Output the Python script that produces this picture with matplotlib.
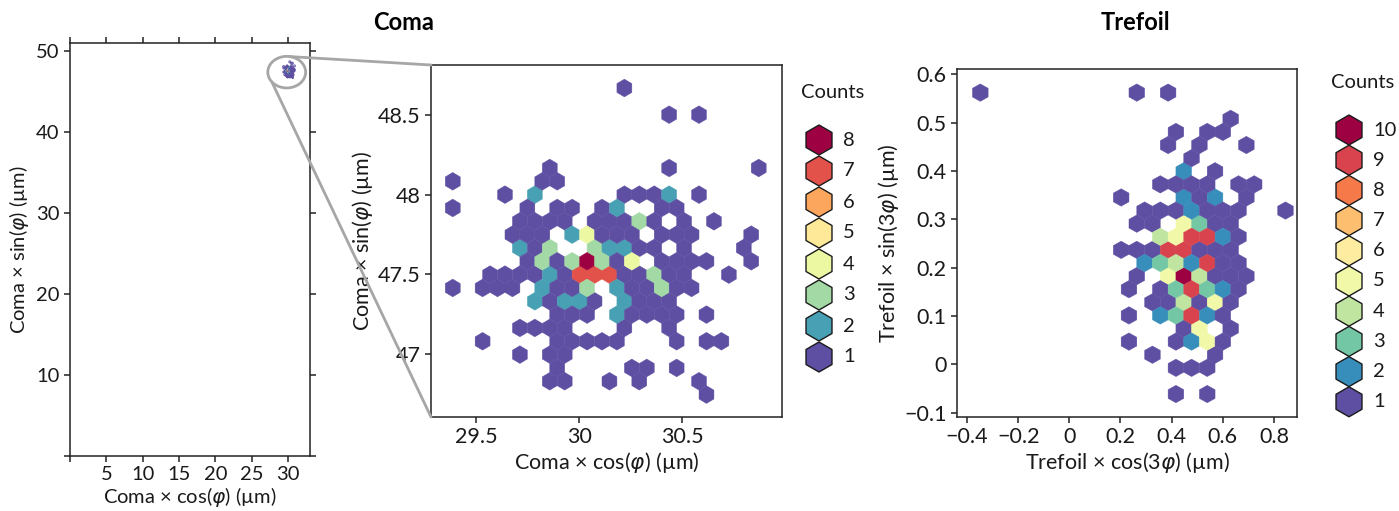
import numpy as np
import matplotlib
matplotlib.use("Agg")
import matplotlib.pyplot as plt
from matplotlib.colors import Normalize
from matplotlib.patches import Ellipse, ConnectionPatch
from matplotlib.ticker import FuncFormatter

plt.rcParams['font.family'] = ['Lato', 'DejaVu Sans']
plt.rcParams['mathtext.fontset'] = 'dejavusans'
plt.rcParams['axes.unicode_minus'] = True

# ---------------- Coma: hexbin cell centres (µm) and counts ----------------
coma_x = [30.22,
          30.44, 30.58,
          29.86, 30.44, 30.87,
          29.39, 29.82, 29.89,
          29.64, 29.78, 30.22, 30.29, 30.36, 30.44, 30.58,
          29.39, 29.75, 29.89, 29.97, 30.11, 30.18, 30.40, 30.47,
          29.71, 29.78, 29.86, 29.93, 30.07, 30.15, 30.22, 30.29, 30.36, 30.51, 30.65,
          29.68, 29.75, 29.82, 29.97, 30.04, 30.11, 30.18, 30.25, 30.40, 30.47, 30.54, 30.83,
          29.71, 29.78, 29.86, 30.07, 30.15, 30.22, 30.29, 30.36, 30.51, 30.80,
          29.75, 29.82, 29.89, 29.97, 30.04, 30.11, 30.18, 30.25, 30.40, 30.47, 30.54, 30.62, 30.83,
          29.57, 29.64, 29.71, 29.78, 29.86, 29.93, 30.00, 30.07, 30.15, 30.22, 30.29, 30.36, 30.44, 30.51, 30.73,
          29.39, 29.53, 29.60, 29.68, 29.82, 29.89, 29.97, 30.04, 30.18, 30.25, 30.33, 30.40, 30.47, 30.54,
          29.78, 29.86, 29.93, 30.00, 30.07, 30.22, 30.29, 30.36, 30.44,
          29.89, 29.97, 30.04, 30.18, 30.25, 30.33, 30.40, 30.47, 30.62,
          29.71, 29.78, 29.86, 29.93, 30.22, 30.44,
          29.53, 29.89, 29.97, 30.04, 30.11, 30.18, 30.47, 30.62, 30.69,
          29.71, 29.86, 29.93,
          29.89, 30.25, 30.33, 30.47,
          29.86, 29.93, 30.15, 30.29, 30.58,
          30.62]
coma_y = ([48.67] + [48.50] * 2 + [48.17] * 3 + [48.08] * 3 + [48.00] * 7
          + [47.92] * 8 + [47.83] * 11 + [47.75] * 12 + [47.67] * 10
          + [47.58] * 13 + [47.50] * 15 + [47.41] * 14 + [47.33] * 9
          + [47.25] * 9 + [47.16] * 6 + [47.08] * 9 + [47.00] * 3
          + [46.91] * 4 + [46.83] * 5 + [46.74])
coma_n = [1,
          1, 1,
          1, 1, 1,
          1, 1, 1,
          1, 2, 1, 1, 1, 2, 1,
          1, 1, 1, 1, 1, 2, 1, 1,
          1, 1, 1, 1, 1, 1, 1, 3, 1, 1, 1,
          1, 1, 1, 2, 4, 1, 1, 1, 1, 1, 1, 1,
          2, 1, 3, 3, 2, 2, 1, 1, 1, 1,
          1, 3, 1, 3, 8, 3, 1, 4, 1, 1, 1, 1, 1,
          1, 1, 1, 1, 2, 1, 7, 7, 7, 1, 1, 3, 1, 1, 1,
          1, 1, 1, 1, 2, 1, 1, 3, 2, 1, 1, 3, 1, 1,
          2, 1, 2, 2, 1, 2, 1, 1, 1,
          1, 1, 1, 2, 1, 1, 1, 1, 1,
          1, 1, 1, 1, 1, 1,
          1, 1, 1, 1, 1, 1, 1, 1, 1,
          1, 1, 1,
          1, 1, 1, 1,
          1, 1, 1, 1, 1,
          1]
coma_levels = [8, 7, 6, 5, 4, 3, 2, 1]

# ---------------- Trefoil: hexbin cell centres (µm) and counts ----------------
tref_x = [-0.35, 0.26, 0.39,
          0.63,
          0.42, 0.54, 0.60,
          0.39, 0.51, 0.69,
          0.48,
          0.45, 0.57,
          0.36, 0.42, 0.48, 0.54, 0.66, 0.72,
          0.20, 0.45, 0.51, 0.57, 0.69,
          0.29, 0.36, 0.42, 0.48, 0.54, 0.60, 0.66, 0.84,
          0.26, 0.32, 0.45, 0.51, 0.57, 0.63,
          0.36, 0.42, 0.48, 0.54, 0.60, 0.66,
          0.20, 0.26, 0.32, 0.39, 0.45, 0.51, 0.57, 0.63,
          0.29, 0.36, 0.42, 0.48, 0.54, 0.60, 0.66,
          0.26, 0.39, 0.45, 0.51, 0.57, 0.63, 0.69,
          0.23, 0.36, 0.42, 0.48, 0.54, 0.60, 0.66,
          0.32, 0.39, 0.45, 0.51, 0.57, 0.63,
          0.23, 0.36, 0.42, 0.48, 0.54, 0.60,
          0.45, 0.51, 0.63,
          0.23, 0.42, 0.48, 0.54, 0.60,
          0.32, 0.57,
          0.42, 0.48, 0.54,
          0.42, 0.54]
tref_y = ([0.56] * 3 + [0.51] + [0.48] * 3 + [0.45] * 3 + [0.43] + [0.40] * 2
          + [0.37] * 6 + [0.35] * 5 + [0.32] * 8 + [0.29] * 6 + [0.26] * 6
          + [0.24] * 8 + [0.21] * 7 + [0.18] * 7 + [0.16] * 7 + [0.13] * 6
          + [0.10] * 6 + [0.07] * 3 + [0.05] * 5 + [0.02] * 2 + [-0.01] * 3
          + [-0.06] * 2)
tref_n = [1, 1, 1,
          1,
          1, 1, 1,
          1, 1, 1,
          1,
          2, 1,
          1, 1, 1, 1, 1, 1,
          1, 2, 1, 2, 1,
          1, 1, 1, 2, 1, 1, 1, 1,
          1, 1, 5, 3, 1, 1,
          4, 5, 9, 9, 2, 1,
          1, 1, 1, 9, 9, 1, 1, 1,
          2, 3, 4, 2, 9, 1, 1,
          1, 5, 10, 4, 1, 1, 1,
          1, 1, 3, 9, 3, 2, 1,
          1, 1, 4, 1, 5, 1,
          1, 2, 3, 9, 2, 1,
          1, 5, 1,
          1, 1, 2, 5, 1,
          1, 1,
          1, 1, 1,
          1, 1]
tref_levels = [10, 9, 8, 7, 6, 5, 4, 3, 2, 1]

# ---------------- figure layout ----------------
W, H = 1399, 511
fig = plt.figure(figsize=(W / 100, H / 100), dpi=100)
TXT = '#1a1a1a'
FS_TICK = 15.5
FS_LAB = 15.5


def rect(l, t, r, b):
    return [l / W, 1 - b / H, (r - l) / W, (b - t) / H]


def fmt(v, p):
    return ('%g' % v).replace('-', '\u2212')


def style(ax, fs=FS_TICK):
    for s in ax.spines.values():
        s.set_linewidth(1.1)
        s.set_color('#222222')
    ax.tick_params(direction='out', length=4.5, width=1.1, colors='#222222',
                   labelsize=fs, labelcolor=TXT, pad=3)


cmap = plt.get_cmap('Spectral_r')
coma_norm = Normalize(1, 8)
tref_norm = Normalize(1, 10)

# hex grid geometry (cell width, row pitch)
coma_sx, coma_sy = 0.072374, 0.167364
coma_x0, coma_y0, coma_nx, coma_ny = 29.2055, 46.4937, 25, 15
coma_ext = (coma_x0, coma_x0 + coma_nx * coma_sx, coma_y0, coma_y0 + coma_ny * coma_sy)

tref_sx, tref_sy = 0.061174, 0.054232
tref_x0, tref_y0, tref_nx, tref_ny = -0.47029, -0.14287, 24, 14
tref_ext = (tref_x0, tref_x0 + tref_nx * tref_sx, tref_y0, tref_y0 + tref_ny * tref_sy)

# ---- overview panel ----
ax0 = fig.add_axes(rect(70, 43, 310, 456))
ax0.hexbin(coma_x, coma_y, C=coma_n, reduce_C_function=np.sum,
           gridsize=(coma_nx, coma_ny), extent=coma_ext, cmap=cmap, norm=coma_norm,
           linewidths=1.6, edgecolors='face')
ax0.set_xlim(0, 33)
ax0.set_ylim(0, 51)
ax0.set_xticks([0, 5, 10, 15, 20, 25, 30])
ax0.set_xticklabels(['', '5', '10', '15', '20', '25', '30'])
ax0.set_yticks([0, 10, 20, 30, 40, 50])
ax0.set_yticklabels(['', '10', '20', '30', '40', '50'])
style(ax0, fs=14.5)
ax0.tick_params(top=True, right=True)
ax0.set_xlabel(r'Coma × cos($\varphi$) (µm)', fontsize=14.5, color=TXT, labelpad=1)
ax0.set_ylabel(r'Coma × sin($\varphi$) (µm)', fontsize=14.5, color=TXT, labelpad=4)

cx, cy, a, b = 29.8, 47.4, 2.6, 1.95
circ = Ellipse((cx, cy), width=2 * a, height=2 * b, fill=False,
               edgecolor='#a6a6a6', lw=2.0, clip_on=False, zorder=5)
ax0.add_patch(circ)

# ---- zoomed coma panel ----
ax1 = fig.add_axes(rect(431, 65, 782, 417))
ax1.hexbin(coma_x, coma_y, C=coma_n, reduce_C_function=np.sum,
           gridsize=(coma_nx, coma_ny), extent=coma_ext, cmap=cmap, norm=coma_norm,
           linewidths=0.3, edgecolors='face')
ax1.set_xlim(29.281, 30.983)
ax1.set_ylim(46.604, 48.814)
ax1.set_xticks([29.5, 30, 30.5])
ax1.set_yticks([47, 47.5, 48, 48.5])
ax1.xaxis.set_major_formatter(FuncFormatter(fmt))
ax1.yaxis.set_major_formatter(FuncFormatter(fmt))
style(ax1)
ax1.set_xlabel(r'Coma × cos($\varphi$) (µm)', fontsize=FS_LAB, color=TXT, labelpad=2)
ax1.set_ylabel(r'Coma × sin($\varphi$) (µm)', fontsize=FS_LAB, color=TXT, labelpad=2)

# connector lines from the circle to the zoomed panel
for ang, corner in ((80, (0, 1)), (218, (0, 0))):
    pA = (cx + a * np.cos(np.radians(ang)), cy + b * np.sin(np.radians(ang)))
    con = ConnectionPatch(xyA=pA, coordsA=ax0.transData, xyB=corner,
                          coordsB=ax1.transAxes, color='#a6a6a6', lw=2.0, zorder=6)
    fig.add_artist(con)

# ---- trefoil panel ----
ax2 = fig.add_axes(rect(957, 69.5, 1297, 417))
ax2.hexbin(tref_x, tref_y, C=tref_n, reduce_C_function=np.sum,
           gridsize=(tref_nx, tref_ny), extent=tref_ext, cmap=cmap, norm=tref_norm,
           linewidths=0.3, edgecolors='face')
ax2.set_xlim(-0.439, 0.890)
ax2.set_ylim(-0.109, 0.610)
ax2.set_xticks([-0.4, -0.2, 0, 0.2, 0.4, 0.6, 0.8])
ax2.set_yticks([-0.1, 0, 0.1, 0.2, 0.3, 0.4, 0.5, 0.6])
ax2.xaxis.set_major_formatter(FuncFormatter(fmt))
ax2.yaxis.set_major_formatter(FuncFormatter(fmt))
style(ax2)
ax2.set_xlabel(r'Trefoil × cos(3$\varphi$) (µm)', fontsize=FS_LAB, color=TXT, labelpad=2)
ax2.set_ylabel(r'Trefoil × sin(3$\varphi$) (µm)', fontsize=FS_LAB, color=TXT, labelpad=2)

# ---- titles ----
fig.text(404 / W, 1 - 22 / H, 'Coma', ha='center', va='center', fontsize=17,
         fontweight='bold', color='black')
fig.text(1135 / W, 1 - 22 / H, 'Trefoil', ha='center', va='center', fontsize=17,
         fontweight='bold', color='black')

# ---- legends (drawn in a full-figure overlay in pixel units) ----
lg = fig.add_axes([0, 0, 1, 1], zorder=10)
lg.set_xlim(0, W)
lg.set_ylim(H, 0)
lg.axis('off')


def hex_legend(xc, y_top, pitch, levels, norm):
    ys = y_top + pitch * np.arange(len(levels))
    lg.scatter([xc] * len(levels), ys, s=21.6 ** 2, marker='h',
               c=[cmap(norm(v)) for v in levels], edgecolors='#1a1a1a', linewidths=1.0)
    for yy, v in zip(ys, levels):
        lg.text(xc + 24, yy, str(v), ha='left', va='center', fontsize=14.5, color=TXT)
    lg.text(xc + 14, y_top - 47, 'Counts', ha='center', va='center', fontsize=14.5, color=TXT)


hex_legend(819, 140, 31.0, coma_levels, coma_norm)
hex_legend(1349, 130, 30.2, tref_levels, tref_norm)

fig.savefig('out.png', dpi=100)
